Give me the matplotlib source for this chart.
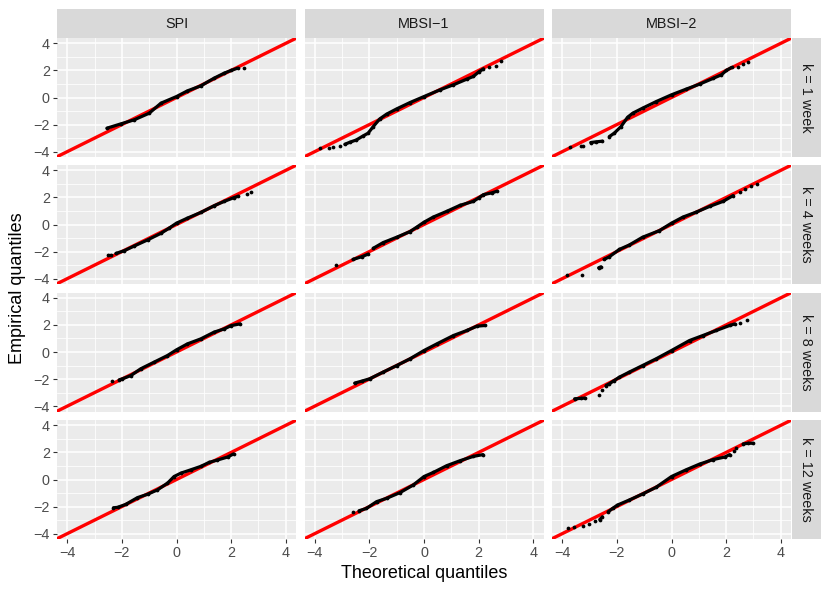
import matplotlib.pyplot as plt
from matplotlib.ticker import MultipleLocator

plt.rcParams['font.family'] = ['Liberation Sans', 'DejaVu Sans']

# facet labels
indices = ['SPI', 'MBSI\u22121', 'MBSI\u22122']
scales = ['k = 1 week', 'k = 4 weeks', 'k = 8 weeks', 'k = 12 weeks']

# points: theoretical (x), empirical (y)
# runs = how many consecutive points form one unbroken stretch
spi_k1_x = [-2.55, -2.04, -1.55, -1.0, -0.57, 0.0, 0.4, 0.89, 1.38, 1.75, 2.0, 2.24, 2.46]
spi_k1_y = [-2.27, -1.95, -1.65, -1.16, -0.42, 0.07, 0.49, 0.86, 1.43, 1.8, 2.0, 2.17, 2.17]
spi_k1_runs = [12, 1]

mb1_k1_x = [-3.82, -3.48, -3.33, -3.09, -2.90, -2.72, -2.48, -2.23, -2.05, -1.86, -1.62, -1.37,
            -1.0, -0.51, 0.0, 0.59, 1.08, 1.57, 1.81, 2.0, 2.18, 2.37, 2.65, 2.83]
mb1_k1_y = [-3.75, -3.70, -3.68, -3.58, -3.46, -3.31, -3.14, -2.84, -2.64, -2.15, -1.58, -1.23,
            -0.84, -0.37, 0.07, 0.57, 0.94, 1.36, 1.56, 1.88, 2.12, 2.22, 2.35, 2.67]
mb1_k1_runs = [1, 1, 1, 1, 17, 1, 1, 1]

mb2_k1_x = [-3.72, -3.33, -3.24, -2.96, -2.77, -2.53, -2.28, -2.10, -1.85, -1.61, -1.42, -1.06,
            -0.56, 0.0, 0.54, 1.03, 1.52, 1.83, 2.01, 2.2, 2.44, 2.63, 2.81]
mb2_k1_y = [-3.63, -3.58, -3.58, -3.33, -3.28, -3.23, -2.89, -2.64, -2.15, -1.46, -1.16, -0.79,
            -0.30, 0.20, 0.62, 0.99, 1.41, 1.68, 2.0, 2.22, 2.22, 2.47, 2.59]
mb2_k1_runs = [1, 1, 1, 3, 14, 1, 1, 1]

spi_k4_x = [-2.51, -2.41, -2.22, -1.92, -1.55, -1.06, -0.57, -0.27, 0.0, 0.40, 0.89, 1.38,
            1.75, 2.11, 2.26, 2.57, 2.73]
spi_k4_y = [-2.26, -2.26, -2.14, -1.94, -1.59, -1.14, -0.65, -0.27, 0.10, 0.47, 0.89, 1.39,
            1.71, 1.99, 2.09, 2.26, 2.41]
spi_k4_runs = [2, 13, 1, 1]

mb1_k4_x = [-3.21, -2.60, -2.29, -2.05, -1.86, -1.50, -1.0, -0.51, -0.27, 0.0, 0.34, 0.83,
            1.32, 1.81, 2.0, 2.18, 2.49, 2.67]
mb1_k4_y = [-3.01, -2.58, -2.39, -2.19, -1.76, -1.34, -0.94, -0.52, -0.20, 0.17, 0.55, 0.97,
            1.42, 1.71, 1.96, 2.21, 2.34, 2.46]
mb1_k4_runs = [1, 3, 14]

mb2_k4_x = [-3.82, -3.29, -2.67, -2.59, -2.47, -2.28, -1.91, -1.55, -1.06, -0.44, 0.0, 0.42,
            0.91, 1.40, 1.89, 2.26, 2.50, 2.69, 2.93, 3.12]
mb2_k4_y = [-3.75, -3.75, -3.20, -3.13, -2.58, -2.39, -1.84, -1.52, -0.94, -0.45, 0.10, 0.55,
            0.92, 1.34, 1.71, 2.14, 2.39, 2.63, 2.88, 2.96]
mb2_k4_runs = [1, 1, 2, 12, 1, 1, 1, 1]

spi_k8_x = [-2.35, -2.10, -1.98, -1.67, -1.31, -0.82, -0.33, 0.0, 0.40, 0.89, 1.38, 1.75, 2.0, 2.33]
spi_k8_y = [-2.11, -2.06, -1.98, -1.74, -1.24, -0.75, -0.26, 0.16, 0.60, 0.97, 1.47, 1.71, 1.95, 2.08]
spi_k8_runs = [1, 13]

mb1_k8_x = [-2.54, -2.29, -1.99, -1.50, -1.0, -0.51, 0.0, 0.47, 1.08, 1.57, 1.94, 2.24]
mb1_k8_y = [-2.30, -2.16, -1.98, -1.49, -1.0, -0.50, 0.11, 0.60, 1.22, 1.59, 1.91, 1.96]
mb1_k8_runs = [12]

mb2_k8_x = [-3.55, -3.33, -3.18, -2.67, -2.55, -2.40, -2.28, -2.10, -1.91, -1.55, -1.06, -0.56,
            0.0, 0.66, 1.15, 1.64, 2.13, 2.32, 2.50, 2.77]
mb2_k8_y = [-3.46, -3.43, -3.41, -3.21, -2.84, -2.48, -2.35, -2.11, -1.86, -1.49, -1.0, -0.50,
            0.11, 0.85, 1.22, 1.59, 1.96, 2.08, 2.16, 2.38]
mb2_k8_runs = [3, 1, 1, 13, 1, 1]

spi_k12_x = [-2.31, -2.16, -1.86, -1.43, -1.06, -0.70, -0.33, -0.09, 0.16, 0.53, 0.89, 1.20,
             1.50, 1.87, 2.09]
spi_k12_y = [-2.09, -2.06, -1.84, -1.34, -1.09, -0.77, -0.27, 0.22, 0.47, 0.72, 0.97, 1.27,
             1.44, 1.66, 1.89]
spi_k12_runs = [15]

mb1_k12_x = [-2.60, -2.38, -2.11, -1.74, -1.37, -0.88, -0.39, 0.0, 0.34, 0.83, 1.32, 1.81, 2.16]
mb1_k12_y = [-2.39, -2.31, -2.14, -1.64, -1.39, -0.97, -0.40, 0.22, 0.52, 1.02, 1.39, 1.71, 1.84]
mb1_k12_runs = [1, 12]

mb2_k12_x = [-3.78, -3.57, -3.24, -3.02, -2.80, -2.63, -2.53, -2.32, -2.16, -1.98, -1.55, -1.06,
             -0.56, 0.0, 0.54, 1.03, 1.52, 1.95, 2.13, 2.28, 2.38, 2.63, 2.81, 2.99]
mb2_k12_y = [-3.55, -3.50, -3.43, -3.30, -3.08, -2.96, -2.76, -2.39, -2.14, -1.89, -1.52, -1.07,
             -0.57, 0.22, 0.72, 1.14, 1.47, 1.66, 1.84, 2.14, 2.34, 2.63, 2.68, 2.68]
mb2_k12_runs = [1, 1, 1, 1, 1, 2, 12, 1, 1, 3]

panels = [
    [(spi_k1_x, spi_k1_y, spi_k1_runs), (mb1_k1_x, mb1_k1_y, mb1_k1_runs), (mb2_k1_x, mb2_k1_y, mb2_k1_runs)],
    [(spi_k4_x, spi_k4_y, spi_k4_runs), (mb1_k4_x, mb1_k4_y, mb1_k4_runs), (mb2_k4_x, mb2_k4_y, mb2_k4_runs)],
    [(spi_k8_x, spi_k8_y, spi_k8_runs), (mb1_k8_x, mb1_k8_y, mb1_k8_runs), (mb2_k8_x, mb2_k8_y, mb2_k8_runs)],
    [(spi_k12_x, spi_k12_y, spi_k12_runs), (mb1_k12_x, mb1_k12_y, mb1_k12_runs), (mb2_k12_x, mb2_k12_y, mb2_k12_runs)],
]

W, H = 830, 593
col_left = [57, 304.5, 552]
col_w = 239
row_top = [38, 165, 292.5, 420]
row_h = 119


def rect(left, top, w, h):
    return [left / W, 1 - (top + h) / H, w / W, h / H]


fig = plt.figure(figsize=(W / 100, H / 100), dpi=100)

for r in range(4):
    for c in range(3):
        ax = fig.add_axes(rect(col_left[c], row_top[r], col_w, row_h))
        ax.set_facecolor('#EBEBEB')
        for s in ax.spines.values():
            s.set_visible(False)
        ax.set_xlim(-4.38, 4.38)
        ax.set_ylim(-4.4, 4.4)
        ax.xaxis.set_major_locator(MultipleLocator(2))
        ax.yaxis.set_major_locator(MultipleLocator(2))
        ax.xaxis.set_minor_locator(MultipleLocator(1))
        ax.yaxis.set_minor_locator(MultipleLocator(1))
        ax.grid(which='major', color='white', lw=1.1)
        ax.grid(which='minor', color='white', lw=0.55)
        ax.set_axisbelow(True)
        ax.tick_params(which='minor', length=0)
        ax.tick_params(which='major', length=3.2, width=0.8, color='#333333',
                       labelcolor='#4D4D4D', labelsize=10.4, pad=2)
        ax.tick_params(left=(c == 0), labelleft=(c == 0),
                       bottom=(r == 3), labelbottom=(r == 3))

        ax.plot([-5, 5], [-5, 5], color='#FF0000', lw=2.4, zorder=2)
        xs, ys, runs = panels[r][c]
        i = 0
        for n in runs:
            sx, sy = xs[i:i + n], ys[i:i + n]
            if n > 1:
                ax.plot(sx, sy, color='black', lw=2.3, solid_capstyle='round',
                        solid_joinstyle='round', zorder=3)
            ax.plot(sx, sy, 'o', color='black', ms=2.7, mec='none', zorder=3)
            i += n

# top strips
for c in range(3):
    sa = fig.add_axes(rect(col_left[c], 9.3, col_w, 28.7))
    sa.set_facecolor('#D9D9D9')
    sa.set_xticks([])
    sa.set_yticks([])
    for s in sa.spines.values():
        s.set_visible(False)
    sa.text(0.5, 0.5, indices[c], ha='center', va='center', fontsize=10.4,
            color='#1A1A1A', transform=sa.transAxes)

# right strips
for r in range(4):
    sa = fig.add_axes(rect(791.5, row_top[r], 29, row_h))
    sa.set_facecolor('#D9D9D9')
    sa.set_xticks([])
    sa.set_yticks([])
    for s in sa.spines.values():
        s.set_visible(False)
    sa.text(0.5, 0.5, scales[r], ha='center', va='center', rotation=-90,
            fontsize=10.4, color='#1A1A1A', transform=sa.transAxes)

fig.text(17 / W, 1 - 288.5 / H, 'Empirical quantiles', rotation=90,
         ha='center', va='center', fontsize=13, color='black')
fig.text(424 / W, 1 - 573 / H, 'Theoretical quantiles',
         ha='center', va='center', fontsize=13, color='black')

fig.savefig('out.png', dpi=100)
